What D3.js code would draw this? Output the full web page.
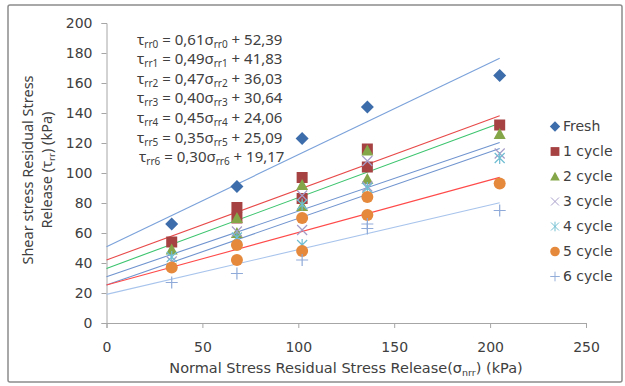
<!DOCTYPE html>
<html><head><meta charset="utf-8">
<script src="https://cdn.jsdelivr.net/npm/d3@7"></script>
<style>
body{margin:0;background:#fff;}
svg text{font-family:"DejaVu Sans",sans-serif;fill:#404040;}
</style></head>
<body><svg id="c" width="625" height="386"></svg>
<script>
// ---- data ----
const seriesNames = ["Fresh","1 cycle","2 cycle","3 cycle","4 cycle","5 cycle","6 cycle"];
const freshX = [34,68,102,136,205];            const freshY = [66,91,123,144,165];
const c1X = [34,68,68,102,102,136,136,205];    const c1Y = [54,77,70,97,83,116,104,132];
const c2X = [34,68,68,102,102,136,136,205];    const c2Y = [49,70,60,92,78,115,96,126];
const c3X = [34,68,102,102,136,136,205];       const c3Y = [41,61,85,62,108,91,113];
const c4X = [34,68,102,102,136,205];           const c4Y = [44,57,79,52,90,110];
const c5X = [34,68,68,102,102,136,136,205];    const c5Y = [37,52,42,70,48,84,72,93];
const c6X = [34,68,102,136,136,205];           const c6Y = [27,33,42,63,66,75];
// trend lines as drawn in the picture (value at x=0 and at x=205)
const trendStartY = [50.9,42.0,36.4,30.9,25.3,25.3,19.1];
const trendEndY   = [176.5,138.2,133.1,120.4,116.4,97.1,80.2];
const trendMaxX = 205;
const eqSlopeText = ["0,61","0,49","0,47","0,40","0,45","0,35","0,30"];
const eqInterceptText = ["52,39","41,83","36,03","30,64","24,06","25,09","19,17"];
const eqSub = ["rr0","rr1","rr2","rr3","rr4","rr5","rr6"];
const xTicks = [0,50,100,150,200,250];
const yTicks = [0,20,40,60,80,100,120,140,160,180,200];

const allX = [freshX,c1X,c2X,c3X,c4X,c5X,c6X];
const allY = [freshY,c1Y,c2Y,c3Y,c4Y,c5Y,c6Y];
const markerShapes = ["diamond","square","triangle","x","asterisk","circle","plus"];
const markerColors = ["#3d6dab","#a64242","#84a548","#a69cc9","#6fbdd2","#e5893c","#8faad8"];
const lineColors = ["#7ba2da","#e84a4a","#3cc46e","#7094cf","#7094cf","#ff4a4a","#a8c4ec"];

const svg = d3.select("#c");
svg.append("rect").attr("x",8).attr("y",5).attr("width",614).attr("height",377)
  .attr("fill","#fff").attr("stroke","#8c8c8c").attr("stroke-width",1.5).attr("rx",2);

const x = d3.scaleLinear().domain([0,250]).range([106.5,586]);
const y = d3.scaleLinear().domain([0,200]).range([323,23]);

// axes
const xAxis = svg.append("g").attr("transform","translate(0,323)")
  .call(d3.axisBottom(x).tickValues(xTicks).tickSize(5).tickPadding(14));
const yAxis = svg.append("g").attr("transform","translate(106.5,0)")
  .call(d3.axisLeft(y).tickValues(yTicks).tickSize(5).tickPadding(9));
[xAxis,yAxis].forEach(a=>{
  a.selectAll("path,line").attr("stroke","#a6a6a6");
  a.selectAll("text").style("font-size","14px").attr("fill","#404040");
});

// trend lines
trendStartY.forEach((s,i)=>{
  svg.append("line").attr("x1",x(0)).attr("y1",y(s))
    .attr("x2",x(trendMaxX)).attr("y2",y(trendEndY[i]))
    .attr("stroke",lineColors[i]).attr("stroke-width",1.1);
});

function drawMarker(g,shape,color){
  if(shape==="diamond") g.append("path").attr("d","M0,-6.5L6.5,0L0,6.5L-6.5,0Z").attr("fill",color);
  else if(shape==="square") g.append("rect").attr("x",-5.5).attr("y",-5.5).attr("width",11).attr("height",11).attr("fill",color);
  else if(shape==="triangle") g.append("path").attr("d","M0,-6L6,5L-6,5Z").attr("fill",color);
  else if(shape==="circle") g.append("circle").attr("r",6).attr("fill",color);
  else if(shape==="x") g.append("path").attr("d","M-5,-5L5,5M-5,5L5,-5").attr("stroke",color).attr("stroke-width",1.2).attr("fill","none");
  else if(shape==="asterisk") g.append("path").attr("d","M-5,-5L5,5M-5,5L5,-5M0,-6V6").attr("stroke",color).attr("stroke-width",1.2).attr("fill","none");
  else if(shape==="plus") g.append("path").attr("d","M-6,0H6M0,-6V6").attr("stroke",color).attr("stroke-width",1.2).attr("fill","none");
}

// markers
allX.forEach((xs,i)=>{
  xs.forEach((xv,j)=>{
    const g = svg.append("g").attr("transform",`translate(${x(xv)},${y(allY[i][j])})`);
    drawMarker(g,markerShapes[i],markerColors[i]);
  });
});

// legend
seriesNames.forEach((n,i)=>{
  const ly = 126.5 + i*25;
  const g = svg.append("g").attr("transform",`translate(555,${ly})`);
  const mg = g.append("g").attr("transform","scale(0.8)");
  drawMarker(mg,markerShapes[i],markerColors[i]);
  g.append("text").attr("x",8).attr("y",0).attr("dy","0.35em").style("font-size","14px").text(n);
});

// equations
eqSlopeText.forEach((s,i)=>{
  const t = svg.append("text").attr("x",i===6?139:137).attr("y",44.5+i*19.6)
    .style("font-family","'Noto Sans',sans-serif").style("font-size","15px");
  t.append("tspan").text("τ");
  t.append("tspan").attr("dy",3).style("font-size","10px").text(eqSub[i]);
  t.append("tspan").attr("dy",-3).text(" = "+s+"σ");
  t.append("tspan").attr("dy",3).style("font-size","10px").text(eqSub[i]);
  t.append("tspan").attr("dy",-3).text(" + "+eqInterceptText[i]);
});

// axis titles
const xt = svg.append("text").attr("x",346).attr("y",373).attr("text-anchor","middle").style("font-size","14.5px");
xt.append("tspan").text("Normal Stress Residual Stress Release(σ");
xt.append("tspan").attr("dy",3).style("font-size","9.5px").text("nrr");
xt.append("tspan").attr("dy",-3).text(")  (kPa)");

const yt = svg.append("text").attr("transform","translate(33,170) rotate(-90)").attr("text-anchor","middle")
  .style("font-family","'Noto Sans',sans-serif").style("font-size","14.5px");
yt.append("tspan").attr("x",0).attr("y",0).text("Shear stress Residual Stress");
const l2 = yt.append("tspan").attr("x",0).attr("y",19);
l2.append("tspan").text("Release (τ");
l2.append("tspan").attr("dy",3).style("font-size","9.5px").text("rr");
l2.append("tspan").attr("dy",-3).text(")  (kPa)");
</script></body></html>
